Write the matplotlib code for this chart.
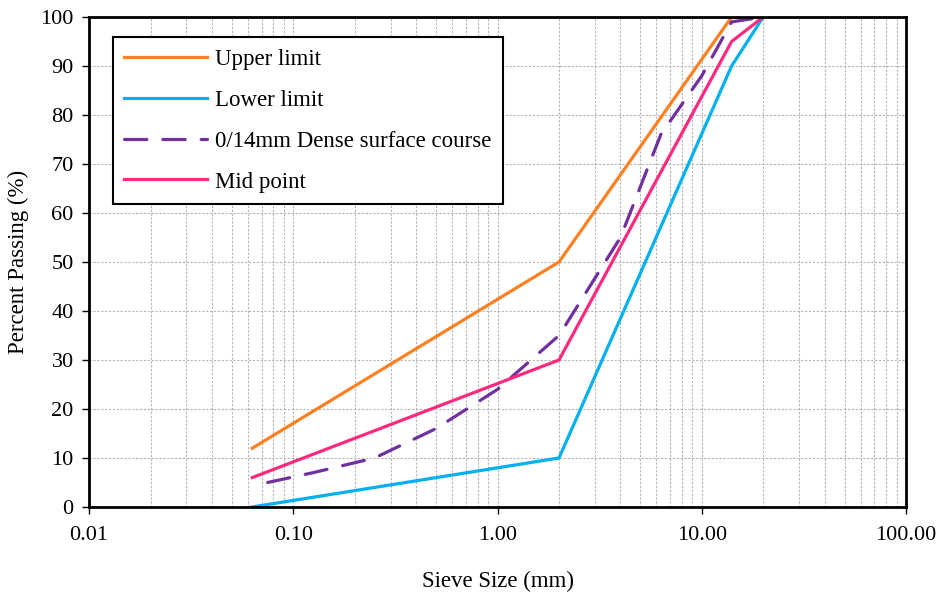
import numpy as np
import matplotlib.pyplot as plt
from matplotlib.ticker import FixedLocator, FixedFormatter, LogLocator, NullFormatter

plt.rcParams['font.family'] = ['Liberation Serif', 'DejaVu Serif']

# 筛孔尺寸 (mm) 与通过率 (%)
sieve_limits = [0.063, 2, 14, 20]
upper_limit = [12, 50, 100, 100]
lower_limit = [0, 10, 90, 100]
mid_point = [6, 30, 95, 100]

sieve_dense = [0.075, 0.125, 0.25, 0.5, 1, 2, 4, 6.3, 10, 14, 20]
dense_course = [5, 7, 10, 16, 24, 35, 55, 76, 88, 99, 100]

x_ticks = [0.01, 0.1, 1, 10, 100]
x_labels = ['0.01', '0.10', '1.00', '10.00', '100.00']
y_ticks = list(range(0, 101, 10))

fig = plt.figure(figsize=(9.42, 5.94), dpi=100)
ax = fig.add_axes([0.0945, 0.1465, 0.8673, 0.8249])

ax.plot(sieve_limits, upper_limit, color='#FF8020', lw=2.3, label='Upper limit')
ax.plot(sieve_limits, lower_limit, color='#00B0F0', lw=2.3, label='Lower limit')
ax.plot(sieve_dense, dense_course, color='#7030A0', lw=2.3, ls=(0, (7, 5)),
        dash_capstyle='round', label='0/14mm Dense surface course')
ax.plot(sieve_limits, mid_point, color='#FF2A7F', lw=2.3, label='Mid point')

ax.set_xscale('log')
ax.set_xlim(0.01, 100)
ax.set_ylim(0, 100)
ax.xaxis.set_major_locator(FixedLocator(x_ticks))
ax.xaxis.set_major_formatter(FixedFormatter(x_labels))
ax.xaxis.set_minor_locator(LogLocator(base=10, subs=np.arange(2, 10)))
ax.xaxis.set_minor_formatter(NullFormatter())
ax.set_yticks(y_ticks)

ax.grid(True, which='both', axis='x', color='#B4B4B4', ls=(0, (2, 1.5)), lw=0.8)
ax.grid(True, which='major', axis='y', color='#B4B4B4', ls=(0, (2, 1.5)), lw=0.8)
ax.set_axisbelow(True)

ax.tick_params(axis='both', which='major', labelsize=16, length=5, width=1, direction='out')
ax.tick_params(axis='x', which='major', pad=9)
ax.tick_params(axis='y', which='major', pad=6)
ax.tick_params(axis='x', which='minor', length=0)
for s in ax.spines.values():
    s.set_linewidth(2)
    s.set_color('black')

ax.set_xlabel('Sieve Size (mm)', fontsize=16.5, labelpad=18)
ax.set_ylabel('Percent Passing (%)', fontsize=16.5, labelpad=8)

leg = ax.legend(loc='upper left', bbox_to_anchor=(0.029, 0.959), borderaxespad=0,
                fontsize=16.5, fancybox=False, framealpha=1, edgecolor='black',
                handlelength=3.6, handletextpad=0.35, labelspacing=0.87, borderpad=0.5)
leg.get_frame().set_linewidth(1.5)

fig.savefig('out.png', dpi=100)
